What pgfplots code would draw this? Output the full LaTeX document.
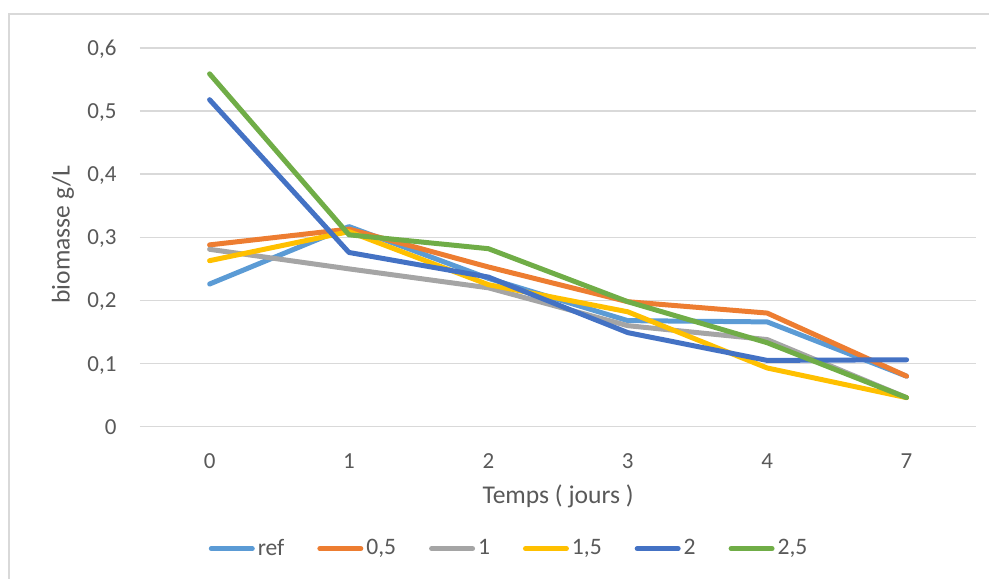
\documentclass[border=0pt]{standalone}
\usepackage{fontspec}
\setmainfont{Carlito}
\usepackage{pgfplots}
\pgfplotsset{compat=1.18}
\definecolor{cref}{HTML}{5B9BD5}
\definecolor{chalf}{HTML}{ED7D31}
\definecolor{cone}{HTML}{A5A5A5}
\definecolor{conehalf}{HTML}{FFC000}
\definecolor{ctwo}{HTML}{4472C4}
\definecolor{ctwohalf}{HTML}{70AD47}
\definecolor{txt}{HTML}{595959}
\definecolor{grd}{HTML}{D9D9D9}
\begin{document}
\begin{tikzpicture}[x=0.5pt,y=0.5pt]
\path (0,0) rectangle (990,579);
\draw[grd, line width=0.75pt] (9,0) -- (9,565) -- (990,565);
\begin{axis}[
  at={(70pt,76pt)}, anchor=south west,
  scale only axis, width=418.5pt, height=189.5pt,
  xmin=-0.5, xmax=5.5, ymin=0, ymax=0.6,
  xtick={0,1,2,3,4,5}, xticklabels={0,1,2,3,4,7},
  ytick={0,0.1,0.2,0.3,0.4,0.5,0.6},
  axis line style={draw=none},
  major tick length=0pt,
  ymajorgrids, grid style={grd, line width=0.75pt},
  /pgf/number format/assume math mode=true,
  /pgf/number format/use comma,
  /pgf/number format/fixed,
  /pgf/number format/precision=1,
  tick label style={font=\fontsize{11.5}{13}\selectfont, text=txt},
  yticklabel style={anchor=east, inner sep=0pt, xshift=-11.5pt, text depth=0pt},
  xticklabel style={anchor=north, inner sep=0pt, yshift=-13.5pt},
  xlabel={Temps ( jours )}, ylabel={biomasse g/L},
  label style={font=\fontsize{12.8}{15}\selectfont, text=txt},
  xlabel style={at={(axis description cs:0.5,-0.185)}, anchor=center},
  ylabel style={at={(axis description cs:-0.092,0.507)}, anchor=center},
  clip=false,
  every axis plot/.append style={line width=2.5pt, line join=round, line cap=round},
  legend style={at={(axis description cs:0.442,-0.322)}, anchor=center, draw=none,
    font=\fontsize{11.8}{13}\selectfont, text=txt, legend columns=6,
    /tikz/every even column/.append style={column sep=15pt},
    nodes={inner sep=1.5pt}},
  legend image code/.code={\draw[#1, line cap=round] (1.25pt,0pt) -- (21.75pt,0pt);},
]
\addplot[cref] coordinates {(0,0.226) (1,0.317) (2,0.235) (3,0.168) (4,0.166) (5,0.080)};
\addlegendentry{ref}
\addplot[chalf] coordinates {(0,0.288) (1,0.313) (2,0.253) (3,0.198) (4,0.180) (5,0.080)};
\addlegendentry{0,5}
\addplot[cone] coordinates {(0,0.281) (1,0.250) (2,0.220) (3,0.160) (4,0.138) (5,0.046)};
\addlegendentry{1}
\addplot[conehalf] coordinates {(0,0.263) (1,0.309) (2,0.225) (3,0.182) (4,0.093) (5,0.046)};
\addlegendentry{1,5}
\addplot[ctwo] coordinates {(0,0.518) (1,0.276) (2,0.237) (3,0.149) (4,0.105) (5,0.106)};
\addlegendentry{2}
\addplot[ctwohalf] coordinates {(0,0.559) (1,0.304) (2,0.282) (3,0.198) (4,0.133) (5,0.046)};
\addlegendentry{2,5}
\end{axis}
\end{tikzpicture}
\end{document}
